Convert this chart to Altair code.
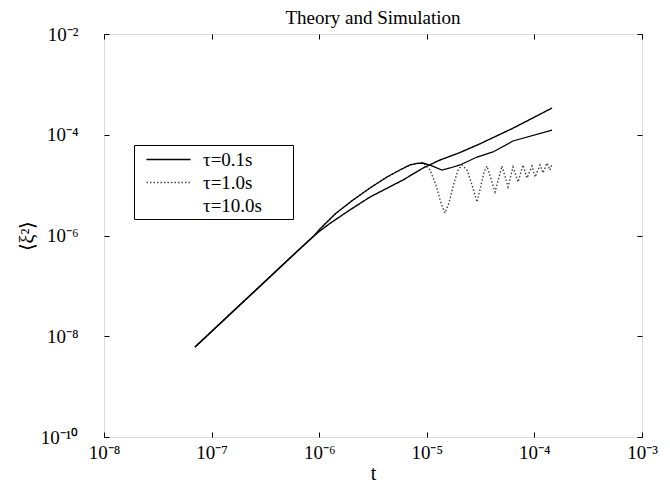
import altair as alt
import pandas as pd

# ---- values (log10 of t and of <xi^2>) ----
series_names = ["τ=0.1s", "τ=1.0s", "τ=10.0s"]

# shared ballistic start
common_logt = [-7.154, -7.0, -6.8, -6.6, -6.4, -6.2, -6.05]
common_logy = [-8.213, -7.905, -7.505, -7.105, -6.705, -6.305, -6.01]

# upper branch shared by the two curves that reach the plateau
upper_logt = [-5.993, -5.85, -5.686, -5.528, -5.370, -5.25, -5.156, -5.09, -5.035]
upper_logy = [-5.87, -5.57, -5.295, -5.057, -4.839, -4.70, -4.600, -4.57, -4.561]

# tau = 0.1 s : lower branch continuing diffusively
s1_logt = [-6.0, -5.9, -5.72, -5.528, -5.221, -5.035, -4.877, -4.70, -4.506, -4.199, -3.836]
s1_logy = [-5.92, -5.76, -5.50, -5.236, -4.898, -4.660, -4.501, -4.36, -4.18, -3.87, -3.469]

# tau = 1.0 s : oscillating tail
s2_logt = [-4.970, -4.915, -4.868, -4.831, -4.794, -4.747, -4.710, -4.673, -4.626,
           -4.580, -4.533, -4.496, -4.468, -4.441, -4.366, -4.301, -4.245, -4.199,
           -4.152, -4.106, -4.069, -4.022, -3.994, -3.948, -3.920, -3.883, -3.855, -3.836]
s2_logy = [-4.700, -4.998, -5.355, -5.553, -5.355, -4.958, -4.700, -4.600, -4.700,
           -4.998, -5.335, -4.998, -4.739, -4.620, -5.137, -4.620, -5.037, -4.640,
           -4.938, -4.600, -4.859, -4.620, -4.839, -4.600, -4.759, -4.561, -4.700, -4.581]

# tau = 10.0 s : small dip then slow rise
s3_logt = [-4.952, -4.859, -4.784, -4.691, -4.533, -4.385, -4.199, -3.836]
s3_logy = [-4.620, -4.700, -4.660, -4.600, -4.442, -4.342, -4.124, -3.906]

x_tick_exp = [-8, -7, -6, -5, -4, -3]
y_tick_exp = [-10, -8, -6, -4, -2]

# ---- build table ----
rows = []
def add(name, lt, ly):
    for a, b in zip(lt, ly):
        rows.append({"series": name, "t": 10 ** a, "xi2": 10 ** b, "order": len(rows)})

add(series_names[0], common_logt + s1_logt, common_logy + s1_logy)
add(series_names[1], common_logt + upper_logt + s2_logt, common_logy + upper_logy + s2_logy)
add(series_names[2], common_logt + upper_logt + s3_logt, common_logy + upper_logy + s3_logy)
df = pd.DataFrame(rows)

FONT = "Liberation Serif"
sup = ("replace(replace(replace(replace(replace(replace(replace(replace(replace(replace(replace("
       "'' + round(log(datum.value)/LN10), '-', '⁻'), '0', '⁰'), '1', '¹'), '2', '²'), '3', '³'),"
       " '4', '⁴'), '5', '⁵'), '6', '⁶'), '7', '⁷'), '8', '⁸'), '9', '⁹')")
label_expr = "'10' + " + sup

x_ticks = [10.0 ** e for e in x_tick_exp]
y_ticks = [10.0 ** e for e in y_tick_exp]

xscale = alt.Scale(type="log", domain=[1e-8, 1e-3], nice=False)
yscale = alt.Scale(type="log", domain=[1e-10, 1e-2], nice=False)

x_bottom = alt.Axis(orient="bottom", values=x_ticks, labelExpr=label_expr, domain=False, grid=False,
                    offset=-5, tickSize=5, tickColor="black", labelFlush=False, labelOverlap=False,
                    labelPadding=6, labelFont=FONT, labelFontSize=19, labelColor="black",
                    title="t", titleFont=FONT, titleFontSize=20, titleFontWeight="normal",
                    titleColor="black", titlePadding=1)
y_left = alt.Axis(orient="left", values=y_ticks, labelExpr=label_expr, domain=False, grid=False,
                  offset=-5, tickSize=5, tickColor="black", labelFlush=False, labelOverlap=False,
                  labelPadding=26, labelFont=FONT, labelFontSize=19, labelColor="black",
                  title="⟨ξ²⟩", titleFont=FONT, titleFontSize=20, titleFontWeight="normal",
                  titleColor="black", titlePadding=3)
x_top = alt.Axis(orient="top", values=x_ticks, labels=False, domain=False, grid=False,
                 offset=-5, tickSize=5, tickColor="black", title=None)
y_right = alt.Axis(orient="right", values=y_ticks, labels=False, domain=False, grid=False,
                   offset=-5, tickSize=5, tickColor="black", title=None)

legend = alt.Legend(title=None, orient="none", legendX=30, legendY=111,
                    strokeColor="black", fillColor="white", padding=3,
                    symbolType="M-2.1,0H2.1", symbolSize=441, symbolStrokeWidth=1.5,
                    symbolOffset=20, labelFont=FONT, labelFontSize=19, labelColor="black",
                    labelOffset=23, rowPadding=1,
                    labelExpr="datum.label + '\u2800\u2800'")

main = alt.Chart(df).transform_filter(
    alt.FieldOneOfPredicate(field="series", oneOf=series_names[:2])
).mark_line(strokeWidth=1.4, clip=True).encode(
    x=alt.X("t:Q", scale=xscale, axis=x_bottom),
    y=alt.Y("xi2:Q", scale=yscale, axis=y_left),
    color=alt.Color("series:N", scale=alt.Scale(domain=series_names,
                                                range=["black", "#444444", "white"]),
                    legend=legend),
    strokeDash=alt.StrokeDash("series:N", scale=alt.Scale(domain=series_names,
                                                          range=[[1, 0], [1.5, 2], [1, 0]]),
                              legend=legend),
    order="order:Q",
)

third = alt.Chart(df).transform_filter(
    alt.FieldEqualPredicate(field="series", equal=series_names[2])
).mark_line(strokeWidth=1.3, color="black", clip=True).encode(
    x=alt.X("t:Q", scale=xscale, axis=x_top),
    y=alt.Y("xi2:Q", scale=yscale, axis=y_right),
    order="order:Q",
)

chart = alt.layer(main, third).resolve_axis(x="independent", y="independent").properties(
    width=538, height=403,
    autosize=alt.AutoSizeParams(type="none"),
    padding={"left": 96, "top": 26, "right": 20, "bottom": 52},
    title=alt.TitleParams("Theory and Simulation", font=FONT, fontSize=19,
                          fontWeight="normal", color="black", anchor="middle", offset=-3),
).configure_view(stroke="black", strokeWidth=1).configure(background="white")

chart.save("out.html", embed_options={"renderer": "svg", "actions": False})
